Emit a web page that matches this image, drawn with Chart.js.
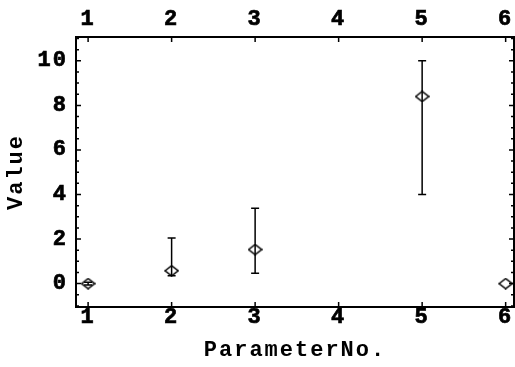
<!DOCTYPE html>
<html>
<head>
<meta charset="utf-8">
<script src="https://cdn.jsdelivr.net/npm/chart.js@4/dist/chart.umd.min.js"></script>
<style>
  html, body { margin: 0; padding: 0; background: #fff; }
  #wrap { width: 515px; height: 367px; }
</style>
</head>
<body>
<div id="wrap"><canvas id="chart"></canvas></div>
<script>
// measured parameters with their error ranges
const paramNo = [1, 2, 3, 5, 6];
const values = [0, 0.58, 1.53, 8.4, 0];
const lowerBounds = [-0.06, 0.35, 0.47, 4.0, 0];
const upperBounds = [0.06, 2.05, 3.38, 10.0, 0];

const xTicks = [1, 2, 3, 4, 5, 6];
const yTicks = [0, 2, 4, 6, 8, 10];

const labelFont = {family: 'Liberation Mono', weight: 'bold', size: 22};

// hollow diamond marker, a bit wider than tall
function makeDiamond() {
    const c = document.createElement('canvas');
    c.width = 15; c.height = 12;
    const g = c.getContext('2d');
    g.strokeStyle = '#000';
    g.lineWidth = 1.5;
    g.beginPath();
    g.moveTo(1, 6); g.lineTo(7.5, 1); g.lineTo(14, 6); g.lineTo(7.5, 11);
    g.closePath();
    g.stroke();
    return c;
}

const errorBars = {
    id: 'errorBars',
    beforeDatasetsDraw(chart) {
        const ctx = chart.ctx, x = chart.scales.x, y = chart.scales.y;
        ctx.save();
        ctx.strokeStyle = '#000';
        ctx.lineWidth = 1.5;
        paramNo.forEach((p, i) => {
            if (lowerBounds[i] === upperBounds[i]) return;
            const px = x.getPixelForValue(p);
            const lo = y.getPixelForValue(lowerBounds[i]);
            const hi = y.getPixelForValue(upperBounds[i]);
            ctx.beginPath();
            ctx.moveTo(px, lo); ctx.lineTo(px, hi);
            ctx.moveTo(px - 4, lo); ctx.lineTo(px + 4, lo);
            ctx.moveTo(px - 4, hi); ctx.lineTo(px + 4, hi);
            ctx.stroke();
        });
        ctx.restore();
    }
};

// box frame with inward ticks on all four sides
const frame = {
    id: 'frame',
    beforeDraw(chart) {
        chart.ctx.letterSpacing = '2px';
    },
    afterDraw(chart) {
        const ctx = chart.ctx, a = chart.chartArea;
        const x = chart.scales.x, y = chart.scales.y;
        ctx.save();
        ctx.strokeStyle = '#000';
        ctx.lineWidth = 1.5;
        ctx.beginPath();
        xTicks.forEach(v => {
            const px = x.getPixelForValue(v);
            ctx.moveTo(px, a.top); ctx.lineTo(px, a.top + 5);
            ctx.moveTo(px, a.bottom); ctx.lineTo(px, a.bottom - 5);
        });
        for (let v = -1; v <= 11; v += 0.5) {
            const py = y.getPixelForValue(v);
            if (py < a.top + 1 || py > a.bottom - 1) continue;
            const len = yTicks.includes(v) ? 5 : 3;
            ctx.moveTo(a.left, py); ctx.lineTo(a.left + len, py);
            ctx.moveTo(a.right, py); ctx.lineTo(a.right - len, py);
        }
        ctx.stroke();
        ctx.lineWidth = 2;
        ctx.strokeRect(a.left, a.top, a.right - a.left, a.bottom - a.top);
        ctx.restore();
    }
};

const tickStyle = {color: '#000', textStrokeColor: '#000', textStrokeWidth: 0.7};

function xAxis(position, height, padding) {
    return {
        type: 'linear',
        position: position,
        min: 0.855,
        max: 6.1,
        afterBuildTicks: s => { s.ticks = xTicks.map(v => ({value: v})); },
        afterFit: s => {
            s.height = height;
            s.paddingLeft = 0;
            s.paddingRight = 0;
        },
        grid: {display: false, drawTicks: false},
        border: {display: false},
        ticks: Object.assign({padding: padding, maxRotation: 0,
                font: Object.assign({lineHeight: '20px'}, labelFont)}, tickStyle)
    };
}

const bottomAxis = xAxis('bottom', 60, 0);
bottomAxis.title = {display: true, text: 'ParameterNo.', color: '#000',
                    font: labelFont, padding: {top: 3, bottom: 3}};

new Chart(document.getElementById('chart'), {
    type: 'scatter',
    data: {
        datasets: [{
            data: paramNo.map((p, i) => ({x: p, y: values[i]})),
            pointStyle: makeDiamond(),
            showLine: false
        }]
    },
    options: {
        responsive: true,
        maintainAspectRatio: false,
        animation: false,
        layout: {autoPadding: false, padding: {right: 1}},
        plugins: {legend: {display: false}, tooltip: {enabled: false}},
        scales: {
            x: bottomAxis,
            x2: xAxis('top', 37, 8),
            y: {
                type: 'linear',
                position: 'left',
                min: -1.05,
                max: 11.07,
                afterBuildTicks: s => { s.ticks = yTicks.map(v => ({value: v})); },
                afterFit: s => {
                    s.width = 76;
                    s.paddingTop = 0;
                    s.paddingBottom = 0;
                },
                grid: {display: false, drawTicks: false},
                border: {display: false},
                ticks: Object.assign({padding: 8, font: labelFont}, tickStyle),
                title: {display: true, text: 'Value', color: '#000',
                        font: labelFont, padding: {top: 3, bottom: 3}}
            }
        }
    },
    plugins: [errorBars, frame]
});
</script>
</body>
</html>
